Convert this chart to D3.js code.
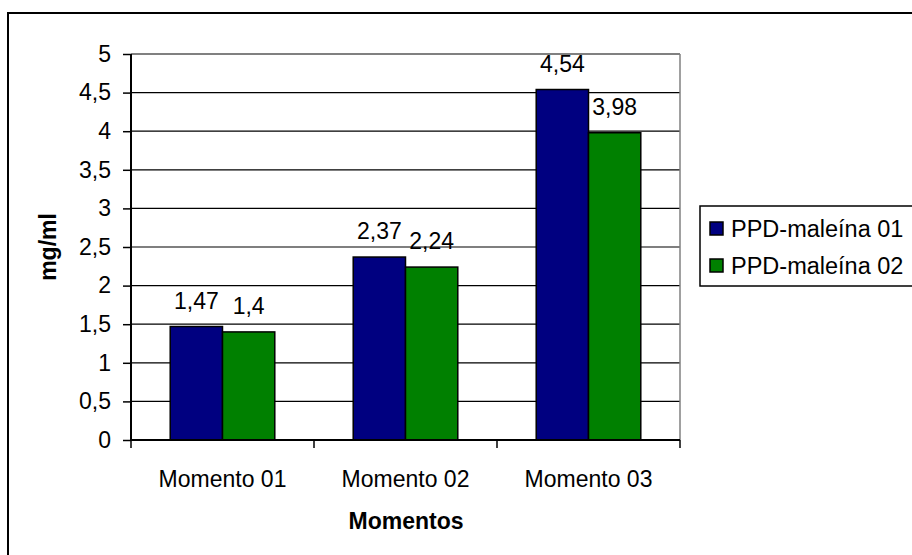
<!DOCTYPE html>
<html><head><meta charset="utf-8">
<script src="https://cdn.jsdelivr.net/npm/d3@7"></script>
<style>body{margin:0;background:#fff}svg{display:block;font-family:Arial,"Liberation Sans",sans-serif}</style>
</head><body><svg id="c" width="912" height="555"></svg>
<script>
const categories = ["Momento 01", "Momento 02", "Momento 03"];
const seriesNames = ["PPD-maleína 01", "PPD-maleína 02"];
const series1 = [1.47, 2.37, 4.54];
const series2 = [1.4, 2.24, 3.98];
const yTicks = [0, 0.5, 1, 1.5, 2, 2.5, 3, 3.5, 4, 4.5, 5];
const colors = ["#000080", "#008000"];

const svg = d3.select("#c");
const L = 131, R = 680, T = 54, B = 440;
const fmt = v => String(v).replace(".", ",");

svg.append("rect").attr("x", 8).attr("y", 13).attr("width", 1000).attr("height", 1000)
  .attr("fill", "#fff").attr("stroke", "#000").attr("stroke-width", 2);

const x = d3.scaleBand().domain(categories).range([L, R]).paddingInner(1.5/3.5).paddingOuter(0.75/3.5);
const x0 = d3.scaleBand().domain(categories).range([L, R]);
const xs = d3.scaleBand().domain([0, 1]).range([0, x.bandwidth()]);
const y = d3.scaleLinear().domain([0, 5]).range([B, T]);

// gridlines
svg.append("g").selectAll("line").data(yTicks.filter(v => v > 0)).join("line")
  .attr("x1", L).attr("x2", R).attr("y1", d => y(d)).attr("y2", d => y(d))
  .attr("stroke", d => d === 5 ? "#808080" : "#000").attr("stroke-width", d => d === 5 ? 2 : 1.2);
svg.append("line").attr("x1", R).attr("x2", R).attr("y1", T).attr("y2", B).attr("stroke", "#808080").attr("stroke-width", 1.5);

const data = categories.map((c, i) => [series1[i], series2[i]].map((v, s) => ({c, s, v})));
const g = svg.append("g");
data.flat().forEach(d => {
  g.append("rect").attr("x", x(d.c) + xs(d.s)).attr("y", y(d.v))
    .attr("width", xs.bandwidth()).attr("height", B - y(d.v))
    .attr("fill", colors[d.s]).attr("stroke", "#000").attr("stroke-width", 1.5);
  g.append("text").attr("x", x(d.c) + xs(d.s) + xs.bandwidth() / 2).attr("y", y(d.v) - 18)
    .attr("text-anchor", "middle").attr("font-size", 23).text(fmt(d.v));
});

// y axis
const ya = svg.append("g").attr("transform", `translate(${L},0)`)
  .call(d3.axisLeft(y).tickValues(yTicks).tickSize(8).tickPadding(12).tickFormat(fmt));
ya.select(".domain").attr("stroke-width", 2).attr("d", `M0,${T}V${B}`);
ya.selectAll("line").attr("stroke-width", 1.5);
ya.selectAll("text").attr("font-size", 23).attr("font-family", "Arial, 'Liberation Sans', sans-serif").attr("fill", "#000");

// x axis
const xa = svg.append("g").attr("transform", `translate(0,${B})`)
  .call(d3.axisBottom(x0).tickSize(0).tickPadding(31));
xa.select(".domain").attr("stroke-width", 2).attr("d", `M${L},0H${R}`);
xa.selectAll("text").attr("font-size", 23).attr("font-family", "Arial, 'Liberation Sans', sans-serif").attr("fill", "#000");
svg.append("g").selectAll("line").data([L, ...categories.map(c => x0(c) + x0.bandwidth())]).join("line")
  .attr("x1", d => d).attr("x2", d => d).attr("y1", B).attr("y2", B + 8).attr("stroke", "#000").attr("stroke-width", 1.5);

// axis titles
svg.append("text").attr("x", 406).attr("y", 529).attr("text-anchor", "middle")
  .attr("font-size", 23).attr("font-weight", "bold").text("Momentos");
svg.append("text").attr("transform", `translate(56,${(T + B) / 2}) rotate(-90)`).attr("text-anchor", "middle")
  .attr("font-size", 23).attr("font-weight", "bold").text("mg/ml");

// legend
const lg = svg.append("g");
lg.append("rect").attr("x", 700).attr("y", 206).attr("width", 300).attr("height", 80)
  .attr("fill", "#fff").attr("stroke", "#000").attr("stroke-width", 1.5);
seriesNames.forEach((n, i) => {
  lg.append("rect").attr("x", 710).attr("y", 222 + i * 37).attr("width", 13).attr("height", 13)
    .attr("fill", colors[i]).attr("stroke", "#000").attr("stroke-width", 1.5);
  lg.append("text").attr("x", 731).attr("y", 237 + i * 37).attr("font-size", 23.5).text(n);
});
</script></body></html>
